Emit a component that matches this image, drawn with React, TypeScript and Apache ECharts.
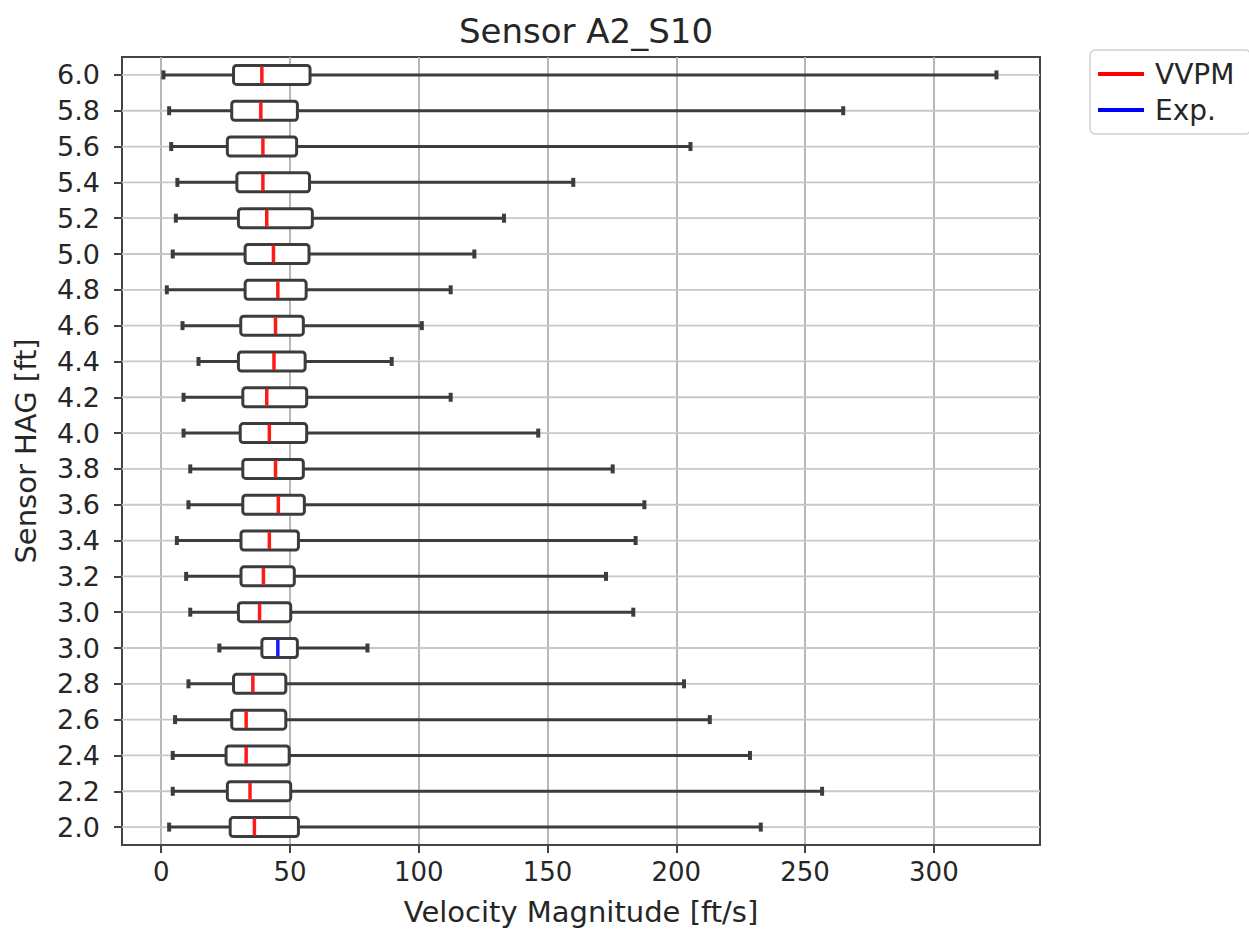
import React, { useEffect, useRef } from "react";
import * as echarts from "echarts";

// Category labels (bottom to top) of the y axis
const hagLabels = ["2.0", "2.2", "2.4", "2.6", "2.8", "3.0", "3.0", "3.2", "3.4", "3.6", "3.8", "4.0", "4.2", "4.4", "4.6", "4.8", "5.0", "5.2", "5.4", "5.6", "5.8", "6.0"];

// VVPM boxes: row index on the y axis and the five-number summaries
const vvpmRowIndex = [0, 1, 2, 3, 4, 6, 7, 8, 9, 10, 11, 12, 13, 14, 15, 16, 17, 18, 19, 20, 21];
const vvpmLow = [3.1, 4.5, 4.5, 5.4, 10.6, 11.3, 9.7, 6.1, 10.6, 11.3, 8.7, 8.7, 14.5, 8.3, 2.2, 4.5, 5.7, 6.3, 3.9, 3.1, 0.9];
const vvpmQ1 = [26.8, 25.7, 25.2, 27.4, 28.1, 30.0, 31.0, 31.0, 31.7, 31.7, 30.7, 31.7, 30.0, 30.9, 32.6, 32.6, 30.0, 29.4, 25.7, 27.4, 28.1];
const vvpmMedian = [36.2, 34.5, 33.0, 33.0, 35.6, 38.2, 39.7, 42.0, 45.5, 44.4, 42.0, 41.0, 43.8, 44.4, 45.3, 43.6, 41.0, 39.5, 39.5, 38.7, 39.1];
const vvpmQ3 = [53.3, 50.3, 49.7, 48.4, 48.4, 50.3, 51.7, 53.3, 55.6, 55.2, 56.5, 56.5, 55.9, 55.2, 56.3, 57.4, 58.7, 57.6, 52.6, 52.9, 57.8];
const vvpmHigh = [232.8, 256.6, 228.6, 213.0, 203.0, 183.3, 172.7, 184.2, 187.6, 175.3, 146.4, 112.4, 89.5, 101.2, 112.4, 121.6, 133.1, 160.0, 205.5, 264.8, 324.3];

// Experimental box
const expRowIndex = [5];
const expLow = [22.6];
const expQ1 = [39.1];
const expMedian = [45.3];
const expQ3 = [52.9];
const expHigh = [80.1];

const xTickValues = [0, 50, 100, 150, 200, 250, 300];

const TEXT = "#262626";
const FONT = "DejaVu Sans";

function buildRows(idx: number[], lo: number[], q1: number[], md: number[], q3: number[], hi: number[]) {
  return idx.map((r, i) => [r, lo[i], q1[i], md[i], q3[i], hi[i]]);
}

function boxRenderer(medianColor: string) {
  return (params: any, api: any) => {
    const row = api.value(0);
    const lo = api.coord([api.value(1), row]);
    const q1 = api.coord([api.value(2), row]);
    const md = api.coord([api.value(3), row]);
    const q3 = api.coord([api.value(4), row]);
    const hi = api.coord([api.value(5), row]);
    const band = api.size([0, 1])[1];
    const h = band * 0.53;
    const cy = lo[1];
    const capH = 9;
    const stroke = "#3c3c3c";
    return {
      type: "group",
      children: [
        { type: "line", shape: { x1: lo[0], y1: cy, x2: q1[0], y2: cy }, style: { stroke, lineWidth: 3 } },
        { type: "line", shape: { x1: q3[0], y1: cy, x2: hi[0], y2: cy }, style: { stroke, lineWidth: 3 } },
        { type: "line", shape: { x1: lo[0], y1: cy - capH / 2, x2: lo[0], y2: cy + capH / 2 }, style: { stroke, lineWidth: 4 } },
        { type: "line", shape: { x1: hi[0], y1: cy - capH / 2, x2: hi[0], y2: cy + capH / 2 }, style: { stroke, lineWidth: 4 } },
        {
          type: "rect",
          shape: { x: q1[0], y: cy - h / 2, width: q3[0] - q1[0], height: h, r: 3 },
          style: { fill: "#ffffff", stroke, lineWidth: 3 },
        },
        {
          type: "line",
          shape: { x1: md[0], y1: cy - h / 2 + 1, x2: md[0], y2: cy + h / 2 - 1 },
          style: { stroke: medianColor, lineWidth: 3.5 },
        },
      ],
    };
  };
}

export default function App() {
  const ref = useRef<HTMLDivElement>(null);
  useEffect(() => {
    if (!ref.current) return;
    const chart = echarts.init(ref.current, undefined, { renderer: "svg" });
    const vvpmData = buildRows(vvpmRowIndex, vvpmLow, vvpmQ1, vvpmMedian, vvpmQ3, vvpmHigh);
    const expData = buildRows(expRowIndex, expLow, expQ1, expMedian, expQ3, expHigh);
    const gridRows = hagLabels.map((_, i) => [i]);
    chart.setOption({
      animation: false,
      backgroundColor: "#ffffff",
      textStyle: { fontFamily: FONT, color: TEXT },
      title: {
        text: "Sensor A2_S10",
        left: 581,
        top: 9,
        textAlign: "center",
        textStyle: { fontFamily: FONT, fontSize: 34, fontWeight: "normal", color: TEXT },
      },
      legend: {
        orient: "vertical",
        left: 1090,
        top: 50,
        padding: [10, 16, 10, 8],
        itemWidth: 46,
        itemHeight: 4,
        itemGap: 8,
        borderColor: "#d0d0d0",
        borderWidth: 1.5,
        borderRadius: 5,
        textStyle: { fontFamily: FONT, fontSize: 28, color: TEXT, padding: [0, 0, 0, 6] },
        data: [
          { name: "VVPM", icon: "rect", itemStyle: { color: "#ff0000" } },
          { name: "Exp.", icon: "rect", itemStyle: { color: "#0000ff" } },
        ],
      },
      grid: {
        left: 122,
        right: 209,
        top: 57,
        bottom: 91,
        show: true,
        borderColor: "#444444",
        borderWidth: 2,
        backgroundColor: "transparent",
      },
      xAxis: {
        type: "value",
        min: -15.2,
        max: 341.2,
        splitNumber: 7,
        name: "Velocity Magnitude [ft/s]",
        nameLocation: "middle",
        nameGap: 52,
        nameTextStyle: { fontFamily: FONT, fontSize: 29, color: TEXT },
        axisLine: { show: true, onZero: false, lineStyle: { color: "#444444", width: 2 } },
        axisTick: { show: true, length: 8, customValues: xTickValues, lineStyle: { color: "#444444", width: 2 } },
        axisLabel: { customValues: xTickValues, fontFamily: FONT, fontSize: 26, color: TEXT, margin: 14 },
        splitLine: { show: true, lineStyle: { color: "#b0b0b0", width: 1.8 } },
      },
      yAxis: {
        type: "category",
        data: hagLabels,
        boundaryGap: true,
        name: "Sensor HAG [ft]",
        nameLocation: "middle",
        nameGap: 82,
        nameTextStyle: { fontFamily: FONT, fontSize: 29, color: TEXT },
        axisLine: { show: true, onZero: false, lineStyle: { color: "#444444", width: 2 } },
        axisTick: { show: true, alignWithLabel: true, length: 8, lineStyle: { color: "#444444", width: 2 } },
        axisLabel: { fontFamily: FONT, fontSize: 27, color: TEXT, margin: 22, interval: 0 },
        splitLine: { show: false },
      },
      series: [
        {
          type: "custom",
          name: "grid",
          silent: true,
          z: 1,
          data: gridRows,
          encode: { y: 0 },
          renderItem: (params: any, api: any) => {
            const p = api.coord([0, api.value(0)]);
            const cs = params.coordSys;
            return {
              type: "line",
              shape: { x1: cs.x, y1: p[1], x2: cs.x + cs.width, y2: p[1] },
              style: { stroke: "#c8c8c8", lineWidth: 1.8 },
            };
          },
        },
        {
          type: "custom",
          name: "VVPM",
          z: 3,
          itemStyle: { color: "#ff0000" },
          data: vvpmData,
          encode: { y: 0, x: [1, 2, 3, 4, 5] },
          renderItem: boxRenderer("#ff1a1a"),
        },
        {
          type: "custom",
          name: "Exp.",
          z: 3,
          itemStyle: { color: "#0000ff" },
          data: expData,
          encode: { y: 0, x: [1, 2, 3, 4, 5] },
          renderItem: boxRenderer("#1a1aff"),
        },
      ],
    });
    return () => chart.dispose();
  }, []);
  return <div ref={ref} style={{ position: "absolute", left: 0, top: 0, width: 1249, height: 936 }} />;
}
